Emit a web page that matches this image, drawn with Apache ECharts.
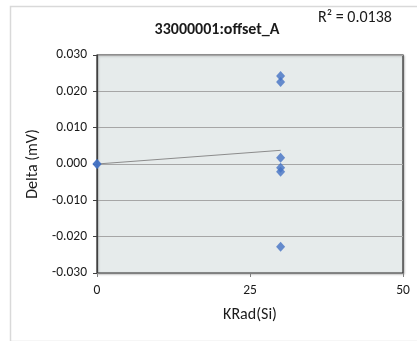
<!DOCTYPE html>
<html>
<head>
<meta charset="utf-8">
<script src="https://cdn.jsdelivr.net/npm/echarts@6/dist/echarts.min.js"></script>
<style>
  html, body { margin: 0; padding: 0; background: #fff; }
  #chart { width: 417px; height: 341px; }
</style>
</head>
<body>
<div id="chart"></div>
<script>
// Dose (KRad(Si)) and measured offset change (mV)
const doses  = [0, 0, 30, 30, 30, 30, 30, 30];
const deltas = [0, 0, 0.0242, 0.0226, 0.0017, -0.0010, -0.0021, -0.0228];
const xTicks = [0, 25, 50];
const yTicks = [-0.030, -0.020, -0.010, 0.000, 0.010, 0.020, 0.030];
const titleText = '33000001:offset_A';
const rSquaredText = 'R² = 0.0138';

// Least-squares fit drawn across the range of the data
function linearFit(xs, ys) {
  const n = xs.length;
  const mx = xs.reduce((a, b) => a + b, 0) / n;
  const my = ys.reduce((a, b) => a + b, 0) / n;
  let sxy = 0, sxx = 0;
  for (let i = 0; i < n; i++) {
    sxy += (xs[i] - mx) * (ys[i] - my);
    sxx += (xs[i] - mx) * (xs[i] - mx);
  }
  const slope = sxy / sxx;
  return { slope, intercept: my - slope * mx };
}
const fit = linearFit(doses, deltas);
const xMin = Math.min(...doses), xMax = Math.max(...doses);
const trend = [[xMin, fit.intercept + fit.slope * xMin], [xMax, fit.intercept + fit.slope * xMax]];

const chart = echarts.init(document.getElementById('chart'), null, { renderer: 'canvas' });
const font = 'Carlito, Calibri, Lato, "Liberation Sans", sans-serif';

chart.setOption({
  animation: false,
  backgroundColor: '#ffffff',
  graphic: [
    {
      type: 'rect', left: 8, top: 4, z: -10,
      shape: { width: 430, height: 335 },
      style: { fill: 'none', stroke: '#d9d9d9', lineWidth: 1.5 }
    },
    {
      type: 'text', z: 10,
      style: { x: 318, y: 10, text: rSquaredText, font: '16px ' + font, fill: '#1a1a1a' }
    }
  ],
  title: {
    text: titleText,
    left: 212, top: 17, textAlign: 'center',
    textStyle: { fontSize: 16, fontWeight: 'bold', fontFamily: font, color: '#1a1a1a' }
  },
  grid: {
    left: 97, top: 55, right: 14, bottom: 68,
    show: true, backgroundColor: '#e6ebeb',
    borderColor: '#2b2b2b', borderWidth: 1.2,
    shadowColor: 'rgba(0,0,0,0.25)', shadowBlur: 2, shadowOffsetX: 1, shadowOffsetY: 1
  },
  xAxis: {
    type: 'value', min: xTicks[0], max: xTicks[xTicks.length - 1], interval: 25,
    name: 'KRad(Si)', nameLocation: 'middle', nameGap: 34,
    nameTextStyle: { fontSize: 16, fontFamily: font, color: '#1a1a1a' },
    axisLine: { show: true, onZero: false, lineStyle: { color: '#7f7f7f', width: 1 } },
    axisTick: { show: true, length: 4, lineStyle: { color: '#7f7f7f' } },
    axisLabel: { fontSize: 13.5, fontFamily: font, color: '#1a1a1a', margin: 11 },
    splitLine: { show: false }
  },
  yAxis: {
    type: 'value', min: yTicks[0], max: yTicks[yTicks.length - 1], interval: 0.01,
    name: 'Delta (mV)', nameLocation: 'middle', nameGap: 47,
    nameTextStyle: { fontSize: 16, fontFamily: font, color: '#1a1a1a' },
    axisLine: { show: true, onZero: false, lineStyle: { color: '#404040', width: 1.2 } },
    axisTick: { show: true, length: 4, lineStyle: { color: '#404040' } },
    axisLabel: { fontSize: 13.5, fontFamily: font, color: '#1a1a1a', margin: 10,
                 formatter: v => v.toFixed(3) },
    splitLine: { show: true, lineStyle: { color: '#a6a6a6', width: 1.2 } }
  },
  series: [
    {
      type: 'line', data: trend, symbol: 'none', silent: true,
      lineStyle: { color: '#8c8c8c', width: 1 }, z: 2
    },
    {
      type: 'scatter', data: doses.map((x, i) => [x, deltas[i]]),
      symbol: 'diamond', symbolSize: [9, 10],
      itemStyle: { color: '#4472c4' }, z: 3
    }
  ]
});
</script>
</body>
</html>
